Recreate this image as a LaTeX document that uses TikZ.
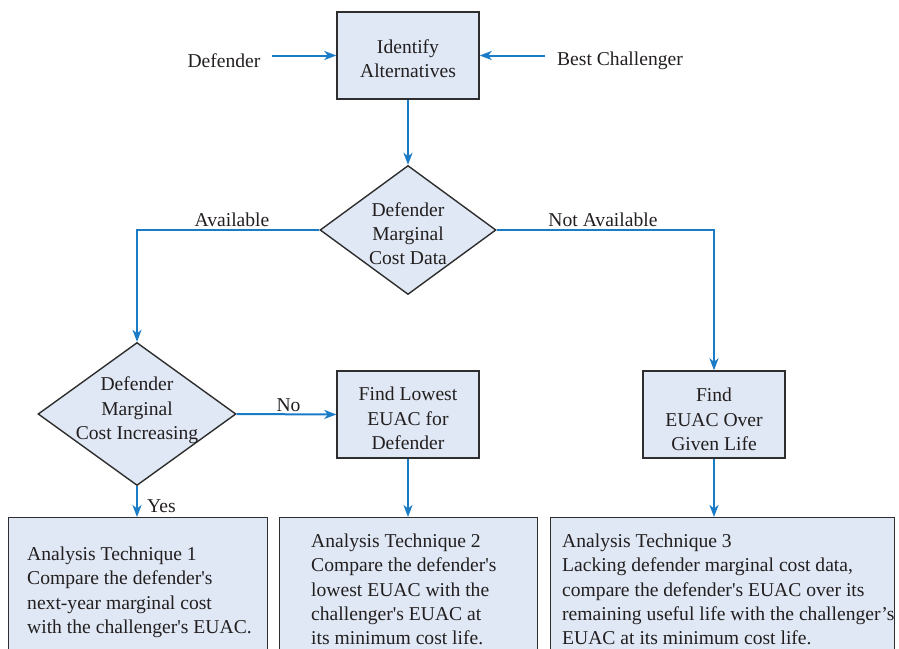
\documentclass[tikz,border=0pt]{standalone}
\usepackage{fontspec}
\setmainfont{Liberation Serif}
\usetikzlibrary{arrows.meta,shapes.geometric}
\definecolor{fillb}{HTML}{DFE8F4}
\definecolor{lineb}{HTML}{1A7BC6}
\definecolor{edgec}{HTML}{2E2E2E}
\definecolor{txt}{HTML}{231F20}
\begin{document}
\begin{tikzpicture}[x=1pt,y=-1pt,
  font=\fontsize{19.6}{24.3}\selectfont,
  every node/.style={text=txt},
  box/.style={draw=edgec, line width=1.4pt, fill=fillb, inner sep=0, minimum width=142pt, minimum height=87pt},
  dia/.style={draw=edgec, line width=1.4pt, fill=fillb, shape=diamond, inner sep=0},
  bot/.style={draw=edgec, line width=1.4pt, fill=fillb, inner sep=0, anchor=north west, minimum height=170pt},
  arr/.style={draw=lineb, line width=2pt, -{Stealth[length=12pt,width=9pt,inset=3.5pt]}},
  lbl/.style={inner sep=0},
  ctr/.style={inner sep=0, align=center}]
\useasboundingbox (0,0) rectangle (899,648);

% top
\node[box] (ident) at (408,55.5) {};
\node[ctr] (identt) at (408,58.5) {Identify\\Alternatives};
\node[lbl] (def) at (224,61) {Defender};
\node[lbl] (best) at (620,61) {Best Challenger};
\coordinate (defe) at (272,55.5);
\coordinate (beste) at (545,55.5);
\draw[arr] (defe) -- (ident.west);
\draw[arr] (beste) -- (ident.east);

% first decision
\node[dia, minimum width=176pt, minimum height=129pt] (d1) at (408,230) {};
\node[ctr] (d1t) at (408,233.5) {Defender\\Marginal\\Cost Data};
\draw[arr] (ident.south) -- (d1.north);

% second decision
\node[dia, minimum width=198pt, minimum height=143pt] (d2) at (137,414) {};
\node[ctr] (d2t) at (137,410.5) {Defender\\Marginal\\Cost Increasing};

% process boxes
\node[box] (b2) at (408,414.5) {};
\node[ctr] (b2t) at (408,418.5) {Find Lowest\\EUAC for\\Defender};
\node[box] (b3) at (714,414.5) {};
\node[ctr] (b3t) at (714,419.5) {Find\\EUAC Over\\Given Life};

\draw[arr] (d1.west) -| (d2.north);
\draw[arr] (d1.east) -| (b3.north);
\node[lbl] (avail) at (232,220) {Available};
\node[lbl] (navail) at (603,220) {Not Available};

\draw[arr] (d2.east) -- (b2.west);
\node[lbl] (no) at (288.5,405.5) {No};

% bottom boxes
\node[bot, minimum width=259pt] (t1) at (8,517) {};
\node[bot, minimum width=258pt] (t2) at (279,517) {};
\node[bot, minimum width=344pt] (t3) at (550,517) {};

\draw[arr] (d2.south) -- (t1.north -| d2.south);
\node[lbl] (yes) at (161.5,506) {Yes};
\draw[arr] (b2.south) -- (t2.north -| b2.south);
\draw[arr] (b3.south) -- (t3.north -| b3.south);

\node[lbl, align=left, anchor=north west] (t1t) at (27,546.6)
  {Analysis Technique 1\\Compare the defender\textquotesingle s\\next-year marginal cost\\with the challenger\textquotesingle s EUAC.};
\node[lbl, align=left, anchor=north west] (t2t) at (311,533.6)
  {Analysis Technique 2\\Compare the defender\textquotesingle s\\lowest EUAC with the\\challenger\textquotesingle s EUAC at\\its minimum cost life.};
\node[lbl, align=left, anchor=north west] (t3t) at (562,533.6)
  {Analysis Technique 3\\Lacking defender marginal cost data,\\compare the defender\textquotesingle s EUAC over its\\remaining useful life with the challenger’s\\EUAC at its minimum cost life.};
\end{tikzpicture}
\end{document}
